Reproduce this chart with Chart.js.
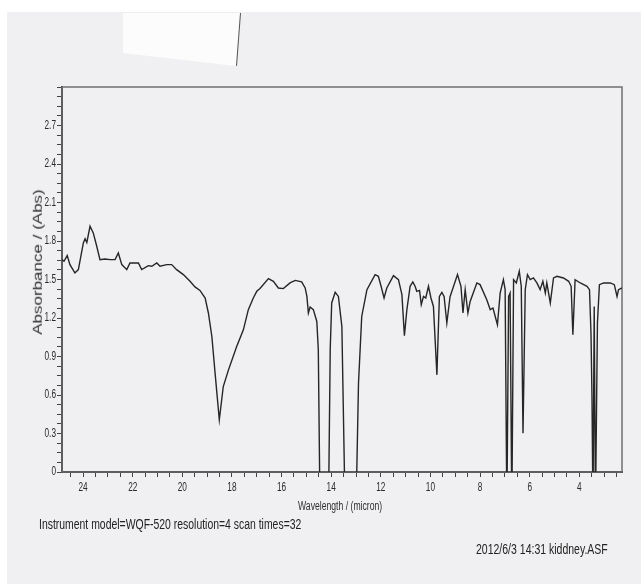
<!DOCTYPE html>
<html>
<head>
<meta charset="utf-8">
<script src="https://cdn.jsdelivr.net/npm/chart.js@4.4.1/dist/chart.umd.min.js"></script>
<style>
  html, body { margin: 0; padding: 0; }
  body { width: 641px; height: 584px; position: relative; overflow: hidden; background: #fff; }
  .scan { position: absolute; left: 7px; top: 12px; right: 0; bottom: 0; background: #f0f0f2; }
  .paper { position: absolute; left: 123px; top: 13px; width: 118px; height: 54px; background: #fcfcfd;
           clip-path: polygon(0 0, 117px 0, 113px 53px, 0 40px); }
  .paper-edge { position: absolute; left: 240px; top: 13px; width: 1px; height: 53px; background: #555;
                transform-origin: top left; transform: rotate(4.3deg); }
  canvas { position: absolute; left: 0; top: 0; }
  /* the scan is squeezed sideways, so the printed text looks condensed */
  .txt { position: absolute; font-family: "Liberation Sans", Arial, sans-serif; color: #222;
         white-space: nowrap; transform-origin: left center; }
  .ytitle { position: absolute; left: 38px; top: 262px; font-family: "Liberation Sans", Arial, sans-serif;
            font-size: 17px; color: #2e2e2e; white-space: nowrap;
            transform: translate(-50%, -50%) rotate(-90deg) scaleY(0.72); }
</style>
</head>
<body>
<div class="scan"></div>
<div class="paper"></div>
<div class="paper-edge"></div>
<canvas id="spectrum" width="641" height="584"></canvas>
<div class="ytitle">Absorbance / (Abs)</div>
<div class="txt" style="left:298px; top:498px; font-size:12px; line-height:16px; transform:scaleX(0.72); color:#2e2e2e;">Wavelength / (micron)</div>
<div class="txt" style="left:39px; top:516px; font-size:14px; line-height:17px; transform:scaleX(0.745);">Instrument model=WQF-520 resolution=4 scan times=32</div>
<div class="txt" style="left:476px; top:541px; font-size:14px; line-height:17px; transform:scaleX(0.75);">2012/6/3 14:31 kiddney.ASF</div>

<script>
/* ------------ DATA ------------ */
// wavelength, micron (axis runs right-to-left)
const wavelength = [
  24.85, 24.77, 24.64, 24.53, 24.33, 24.19, 23.99, 23.92, 23.85, 23.72,
  23.59, 23.45, 23.32, 23.12, 22.91, 22.71, 22.58, 22.44, 22.24, 22.11,
  21.77, 21.64, 21.37, 21.23, 21.03, 20.90, 20.63, 20.43, 20.23, 19.96,
  19.69, 19.49, 19.29, 19.08, 18.95, 18.81, 18.68, 18.51, 18.35, 18.14,
  17.81, 17.54, 17.34, 17.14, 17.00, 16.87, 16.53, 16.33, 16.13, 15.93,
  15.66, 15.45, 15.19, 15.05, 14.98, 14.92, 14.85, 14.72, 14.58, 14.52,
  14.45, 14.11, 14.04, 13.98, 13.84, 13.71, 13.57, 13.44, 13.00, 12.90,
  12.77, 12.56, 12.23, 12.10, 11.99, 11.87, 11.76, 11.49, 11.29, 11.15,
  11.05, 10.95, 10.82, 10.71, 10.62, 10.55, 10.44, 10.37, 10.28, 10.19,
  10.08, 9.98, 9.88, 9.74, 9.64, 9.54, 9.45, 9.34, 9.21, 8.91,
  8.77, 8.69, 8.60, 8.49, 8.40, 8.13, 8.00, 7.73, 7.59, 7.48,
  7.39, 7.30, 7.19, 7.06, 6.99, 6.92, 6.85, 6.79, 6.72, 6.65,
  6.54, 6.42, 6.34, 6.27, 6.18, 6.09, 5.98, 5.85, 5.71, 5.58,
  5.47, 5.37, 5.31, 5.17, 5.04, 4.90, 4.64, 4.43, 4.33, 4.26,
  4.17, 3.96, 3.69, 3.59, 3.53, 3.49, 3.45, 3.40, 3.35, 3.27,
  3.19, 3.02, 2.75, 2.59, 2.48, 2.42, 2.28
];
// absorbance, Abs (deep bands run off the bottom of the frame)
const absorbance = [
  1.655, 1.642, 1.686, 1.616, 1.551, 1.577, 1.785, 1.817, 1.788, 1.915,
  1.863, 1.759, 1.655, 1.660, 1.655, 1.655, 1.707, 1.616, 1.577, 1.629,
  1.629, 1.577, 1.608, 1.603, 1.629, 1.603, 1.616, 1.616, 1.577, 1.538,
  1.486, 1.442, 1.415, 1.356, 1.239, 1.056, 0.770, 0.406, 0.666, 0.796,
  0.978, 1.108, 1.265, 1.356, 1.408, 1.430, 1.507, 1.486, 1.434, 1.429,
  1.473, 1.493, 1.481, 1.434, 1.368, 1.239, 1.286, 1.265, 1.173, 0.952,
  -0.3, -0.3, 0.952, 1.317, 1.400, 1.368, 1.134, -0.3, -0.3, 0.692,
  1.212, 1.421, 1.538, 1.525, 1.447, 1.356, 1.434, 1.530, 1.499, 1.382,
  1.062, 1.265, 1.447, 1.481, 1.447, 1.408, 1.415, 1.304, 1.368, 1.356,
  1.447, 1.356, 1.290, 0.757, 1.368, 1.400, 1.368, 1.161, 1.366, 1.538,
  1.447, 1.239, 1.421, 1.239, 1.329, 1.473, 1.460, 1.343, 1.265, 1.278,
  1.212, 1.148, 1.395, 1.499, 1.421, -0.3, 1.368, 1.395, -0.3, 1.499,
  1.473, 1.564, 1.447, 0.302, 1.421, 1.538, 1.499, 1.512, 1.473, 1.421,
  1.486, 1.395, 1.473, 1.317, 1.512, 1.525, 1.512, 1.486, 1.447, 1.069,
  1.499, 1.473, 1.447, 1.421, 1.083, 0.588, -0.3, 1.290, -0.3, 1.161,
  1.460, 1.473, 1.473, 1.460, 1.368, 1.421, 1.434
];
// axis settings
const xRange = [2.28, 24.85];
const yRange = [0, 3.0];
const xMinorStep = 0.5, xLabelStep = 2;
const yMinorStep = 0.075, yLabelStep = 0.3;

/* ------------ HELPERS ------------ */
const isMultiple = (v, step) => Math.abs(v / step - Math.round(v / step)) < 1e-6;
const labelFont = '12.5px "Liberation Sans", Arial, sans-serif';
const squeeze = 0.66;   // horizontal squash of the scanned printout

// thin gray frame on top/right like the printout
const framePlugin = {
  id: 'frame',
  beforeDatasetsDraw(chart) {
    const { ctx, chartArea: a } = chart;
    ctx.save();
    ctx.strokeStyle = '#6f6f72';
    ctx.lineWidth = 1.5;
    ctx.strokeRect(a.left, a.top, a.right - a.left, a.bottom - a.top);
    ctx.restore();
  }
};

// condensed tick labels, placed from the scales' own ticks
const labelPlugin = {
  id: 'condensedLabels',
  afterDraw(chart) {
    const { ctx, scales: { x, y } } = chart;
    const put = (text, px, py, align) => {
      ctx.save();
      ctx.translate(px, py);
      ctx.scale(squeeze, 1);
      ctx.textAlign = align;
      ctx.fillText(text, 0, 0);
      ctx.restore();
    };
    ctx.save();
    ctx.font = labelFont;
    ctx.fillStyle = '#2a2a2a';
    ctx.textBaseline = 'middle';
    x.ticks.forEach(t => {
      if (isMultiple(t.value, xLabelStep)) put(String(Math.round(t.value)), x.getPixelForValue(t.value), x.top + 16, 'center');
    });
    y.ticks.forEach(t => {
      if (isMultiple(t.value, yLabelStep) && t.value < 2.95) {
        put(t.value === 0 ? '0' : t.value.toFixed(1), y.right - 6, y.getPixelForValue(t.value), 'right');
      }
    });
    ctx.restore();
  }
};

new Chart(document.getElementById('spectrum'), {
  type: 'line',
  data: {
    datasets: [{
      data: wavelength.map((w, i) => ({ x: w, y: absorbance[i] })),
      borderColor: '#262626',
      borderWidth: 1.4,
      pointRadius: 0,
      tension: 0,
      fill: false
    }]
  },
  options: {
    responsive: false,
    animation: false,
    layout: { padding: { left: 20, top: 87, right: 19, bottom: 72 } },
    plugins: { legend: { display: false }, tooltip: { enabled: false } },
    scales: {
      x: {
        type: 'linear',
        reverse: true,
        min: xRange[0],
        max: xRange[1],
        afterFit: s => { s.height = 40; },
        border: { color: '#2e2e2e', width: 2 },
        grid: { drawOnChartArea: false, tickLength: 5, color: '#444' },
        ticks: { stepSize: xMinorStep, includeBounds: false, autoSkip: false, display: false }
      },
      y: {
        min: yRange[0],
        max: yRange[1],
        afterFit: s => { s.width = 42; },
        border: { color: '#2e2e2e', width: 2 },
        grid: { drawOnChartArea: false, tickLength: 5, color: '#444' },
        ticks: { stepSize: yMinorStep, autoSkip: false, display: false }
      }
    }
  },
  plugins: [framePlugin, labelPlugin]
});
</script>
</body>
</html>
